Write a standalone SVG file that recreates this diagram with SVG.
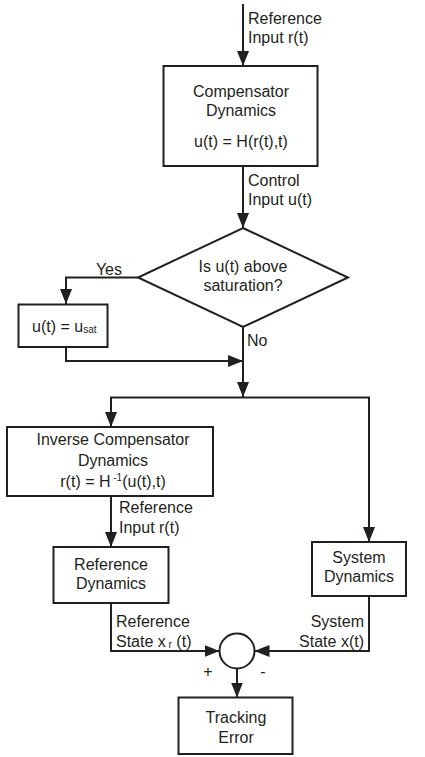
<svg xmlns="http://www.w3.org/2000/svg" width="425" height="757" viewBox="0 0 425 757">
<style>
text{font-family:"Liberation Sans",Arial,sans-serif;font-size:16px;fill:#231f20}
.c{text-anchor:middle}
.e{text-anchor:end}
.box{fill:#fff;stroke:#231f20;stroke-width:2}
.ln{fill:none;stroke:#231f20;stroke-width:2}
.sm{font-size:10px}
</style>
<defs>
<marker id="ah" viewBox="0 0 15 12" refX="15" refY="6" markerWidth="15" markerHeight="12" markerUnits="userSpaceOnUse" orient="auto">
<path d="M0,0 L15,6 L0,12 z" fill="#231f20"/>
</marker>
</defs>
<rect width="425" height="757" fill="#fff"/>
<g id="connectors">
<path class="ln" d="M243,4 V66" marker-end="url(#ah)"/>
<path class="ln" d="M243,166 V228" marker-end="url(#ah)"/>
<path class="ln" d="M138,277.5 H66 V304" marker-end="url(#ah)"/>
<path class="ln" d="M66,347 V361 H243" marker-end="url(#ah)"/>
<path class="ln" d="M243,327 V397" marker-end="url(#ah)"/>
<path class="ln" d="M243,397.5 H111 V427" marker-end="url(#ah)"/>
<path class="ln" d="M243,397.5 H369 V542" marker-end="url(#ah)"/>
<path class="ln" d="M111,496 V547" marker-end="url(#ah)"/>
<path class="ln" d="M111,603 V651 H219.5" marker-end="url(#ah)"/>
<path class="ln" d="M369,596 V651 H254.5" marker-end="url(#ah)"/>
<path class="ln" d="M237,668.5 V697.5" marker-end="url(#ah)"/>
<text x="248" y="24">Reference</text>
<text x="248" y="43">Input r(t)</text>
<text x="248" y="186">Control</text>
<text x="248" y="205">Input u(t)</text>
<text x="122" y="275" class="e">Yes</text>
<text x="247" y="346">No</text>
<text x="119" y="513">Reference</text>
<text x="119" y="533">Input r(t)</text>
<text x="116" y="627">Reference</text>
<text x="116" y="647">State x<tspan class="sm" dy="1"> r</tspan><tspan dy="-1"> (t)</tspan></text>
<text x="364" y="627" class="e">System</text>
<text x="364" y="647" class="e">State x(t)</text>
<text x="208" y="677" class="c">+</text>
<text x="263" y="677" class="c">-</text>
</g>
<g id="compensator">
<rect class="box" x="163.5" y="66" width="154" height="100"/>
<text x="241" y="97" class="c">Compensator</text>
<text x="241" y="116" class="c">Dynamics</text>
<text x="241" y="147" class="c">u(t) = H(r(t),t)</text>
</g>
<g id="decision">
<polygon class="box" points="243,228 348,277.5 243,327 138,277.5"/>
<text x="243" y="272" class="c">Is u(t) above</text>
<text x="243" y="291" class="c">saturation?</text>
</g>
<g id="saturate">
<rect class="box" x="18.5" y="304.5" width="89" height="42.5"/>
<text x="32" y="332">u(t) = u<tspan class="sm" dy="1">sat</tspan></text>
</g>
<g id="inverse">
<rect class="box" x="7" y="427" width="206" height="69"/>
<text x="113" y="445" class="c">Inverse Compensator</text>
<text x="113" y="466" class="c">Dynamics</text>
<text x="113" y="487" class="c">r(t) = H<tspan class="sm" dy="-6"> -1</tspan><tspan dy="6">(u(t),t)</tspan></text>
</g>
<g id="refdyn">
<rect class="box" x="53.5" y="547" width="115" height="56"/>
<text x="111" y="570" class="c">Reference</text>
<text x="111" y="589" class="c">Dynamics</text>
</g>
<g id="sysdyn">
<rect class="box" x="312" y="542" width="94" height="54"/>
<text x="359" y="563" class="c">System</text>
<text x="359" y="582" class="c">Dynamics</text>
</g>
<g id="sum">
<circle class="box" cx="237" cy="651" r="17.5"/>
</g>
<g id="tracking">
<rect class="box" x="178.5" y="697.5" width="114" height="56.5"/>
<text x="236" y="723" class="c">Tracking</text>
<text x="236" y="743" class="c">Error</text>
</g>
</svg>
